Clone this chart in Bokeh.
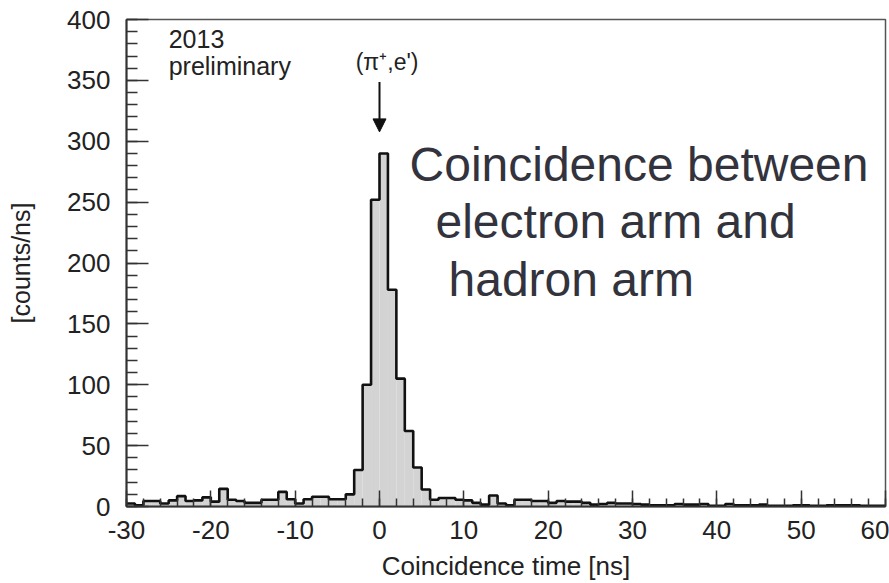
import numpy as np
from bokeh.plotting import figure
from bokeh.models import SingleIntervalTicker, Range1d, Label, Arrow, NormalHead
from bokeh.embed import file_html
from bokeh.resources import INLINE

# ---- data ----
bin_left = list(range(-30, 60))          # 1 ns bins, left edges
counts = [2.5, 1, 4.5, 4.5, 2.5, 5, 8.5, 4.5, 5, 7.5,
          4, 14.5, 5.5, 4.5, 3, 3, 5.5, 5.5, 12, 6,
          2.5, 6, 8, 8, 6, 6, 10, 30, 100, 252,
          290, 178, 105, 62, 32, 14, 5.5, 7, 7, 5.5,
          5, 3, 1.5, 9, 2.5, 1, 5.5, 5.5, 4.5, 4.5,
          3, 4.5, 4, 4, 3, 1.5, 2, 3, 2.5, 2.5,
          2, 1.5, 1, 1, 1, 2, 1.5, 1.5, 2, 0.5,
          0.5, 2, 1, 1, 1, 1.5, 0.5, 0.5, 0.5, 1,
          1, 0.5, 0.5, 1, 1, 1, 1, 0.5, 0.5, 0.5]
bin_width = 1.0
x_ticks = [-30, -20, -10, 0, 10, 20, 30, 40, 50, 60]
x_tick_labels = ["-30", "-20", "-10", "0", "10", "20", "30", "40", "50", "60"]
x_label = "Coincidence time [ns]"
y_label = "[counts/ns]"
peak_label = "(π⁺,e')"
note_lines = ["2013", "preliminary"]
big_lines = ["Coincidence between", "electron arm and", "hadron arm"]

FONT = "Liberation Sans"

p = figure(width=889, height=583, output_backend="svg", toolbar_location=None,
           x_range=Range1d(-30, 60), y_range=Range1d(0, 400),
           min_border_left=126, min_border_right=4, min_border_top=19,
           min_border_bottom=75)
p.grid.visible = False
p.outline_line_color = "#555555"
p.outline_line_width = 1.5
p.background_fill_color = "white"
p.border_fill_color = "white"

left = np.array(bin_left, dtype=float)
right = left + bin_width
top = np.array(counts, dtype=float)
p.quad(left=left, right=right, top=top, bottom=0,
       fill_color="#d3d3d3", line_color=None)
edges = np.append(left, right[-1])
p.step(x=edges, y=np.append(top, top[-1]), mode="after",
       line_color="#111111", line_width=2.6)

# axes
for ax, tk in ((p.xaxis, SingleIntervalTicker(interval=10, num_minor_ticks=5)),
               (p.yaxis, SingleIntervalTicker(interval=50, num_minor_ticks=5))):
    ax.ticker = tk
    ax.axis_line_color = "#333333"
    ax.axis_line_width = 2
    ax.major_tick_line_color = "#333333"
    ax.minor_tick_line_color = "#333333"
    ax.major_tick_line_width = 1.5
    ax.minor_tick_line_width = 1.5
    ax.major_tick_out = 0
    ax.minor_tick_out = 0
    ax.major_label_text_font = FONT
    ax.major_label_text_font_size = "26px"
    ax.major_label_text_color = "#222222"
    ax.axis_label_text_font = FONT
    ax.axis_label_text_font_style = "normal"
    ax.axis_label_text_color = "#222222"

p.xaxis.major_label_overrides = dict(zip(x_ticks, x_tick_labels))
p.xaxis.major_tick_in = 16
p.xaxis.minor_tick_in = 8
p.yaxis.major_tick_in = 22
p.yaxis.minor_tick_in = 11
p.xaxis.major_label_standoff = 14
p.yaxis.major_label_standoff = 16
p.xaxis.axis_label = x_label
p.yaxis.axis_label = y_label
p.xaxis.axis_label_text_font_size = "26px"
p.yaxis.axis_label_text_font_size = "25px"
p.xaxis.axis_label_standoff = 9
p.yaxis.axis_label_standoff = 29

# annotations
p.add_layout(Label(x=-25.0, y=383.8, text=note_lines[0], text_font=FONT,
                   text_font_size="25px", text_color="#222222",
                   text_baseline="alphabetic"))
p.add_layout(Label(x=-25.0, y=361.7, text=note_lines[1], text_font=FONT,
                   text_font_size="25px", text_color="#222222",
                   text_baseline="alphabetic"))
p.add_layout(Label(x=0.9, y=365.0, text=peak_label, text_font=FONT,
                   text_font_size="23px", text_color="#222222",
                   text_align="center", text_baseline="alphabetic"))
p.add_layout(Arrow(x_start=0, y_start=348.6, x_end=0, y_end=307.7,
                   line_color="#111111", line_width=2,
                   end=NormalHead(size=13, fill_color="#111111",
                                  line_color="#111111")))

big_pos = [(3.56, 280.7), (6.64, 234.0), (8.18, 186.6)]
for (bx, by), t in zip(big_pos, big_lines):
    p.add_layout(Label(x=bx, y=by, text=t, text_font=FONT,
                       text_font_size="48px", text_color="#33333d",
                       text_baseline="alphabetic"))

open("out.html", "w").write(file_html(p, INLINE))
